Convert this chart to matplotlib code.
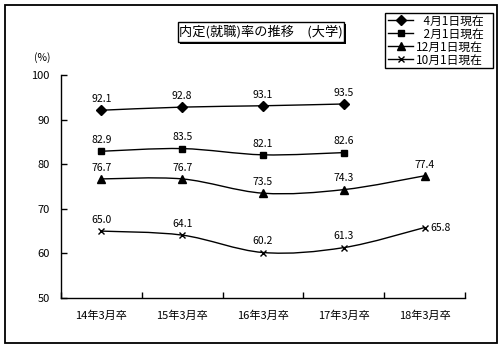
import numpy as np
import matplotlib
matplotlib.use("Agg")
import matplotlib.pyplot as plt
from matplotlib.path import Path
from matplotlib.patches import PathPatch, Rectangle
from matplotlib.lines import Line2D

plt.rcParams['font.family'] = ['Noto Sans CJK JP', 'DejaVu Sans']

categories = ["14年3月卒", "15年3月卒", "16年3月卒", "17年3月卒", "18年3月卒"]
series_names = ["\u20074月1日現在", "\u20072月1日現在", "12月1日現在", "10月1日現在"]
apr1 = [92.1, 92.8, 93.1, 93.5, None]
feb1 = [82.9, 83.5, 82.1, 82.6, None]
dec1 = [76.7, 76.7, 73.5, 74.3, 77.4]
oct1 = [65.0, 64.1, 60.2, 61.3, 65.8]
y_ticks = [50, 60, 70, 80, 90, 100]
title = "内定(就職)率の推移　(大学)"

W, H = 501, 348
fig = plt.figure(figsize=(W / 100, H / 100), dpi=100)

def fx(px):
    return px / W

def fy(py):
    return 1 - py / H

# outer frame
fig.patches.append(Rectangle((fx(5), fy(343)), fx(492), (338) / H, transform=fig.transFigure,
                             fill=False, edgecolor='black', lw=1.3))

ax = fig.add_axes([fx(61), fy(298), fx(465 - 61), (298 - 75) / H])
ax.set_xlim(-0.5, 4.5)
ax.set_ylim(50, 100)
for s in ['top', 'right']:
    ax.spines[s].set_visible(False)
for s in ['left', 'bottom']:
    ax.spines[s].set_linewidth(1.0)

ax.set_yticks(y_ticks)
ax.set_yticklabels([str(v) for v in y_ticks], fontsize=8)
ax.tick_params(axis='y', direction='in', length=4, width=1, pad=8)
ax.set_xticks(range(len(categories)))
ax.set_xticklabels(categories, fontsize=8)
ax.tick_params(axis='x', which='major', length=0, pad=9)
ax.set_xticks(np.arange(-0.5, 5, 1.0), minor=True)
ax.tick_params(axis='x', which='minor', direction='in', length=4, width=1)

fig.text(fx(42), fy(58), "(%)", fontsize=7.5, ha='center', va='center')


def smooth_path(xs, ys):
    pts = [(x, y) for x, y in zip(xs, ys) if y is not None]
    p = np.array(pts, dtype=float)
    verts = [tuple(p[0])]
    codes = [Path.MOVETO]
    n = len(p)
    for i in range(n - 1):
        prev = p[i - 1] if i > 0 else p[i]
        nxt = p[i + 2] if i + 2 < n else p[i + 1]
        c1 = p[i] + (p[i + 1] - prev) / 6
        c2 = p[i + 1] - (nxt - p[i]) / 6
        verts += [tuple(c1), tuple(c2), tuple(p[i + 1])]
        codes += [Path.CURVE4] * 3
    return Path(verts, codes)


styles = [
    dict(marker='D', ms=4.6),
    dict(marker='s', ms=5.0),
    dict(marker='^', ms=5.6),
    dict(marker='x', ms=4.0, mew=1.0),
]
all_series = [apr1, feb1, dec1, oct1]
xs = list(range(len(categories)))
handles = []
for name, vals, st in zip(series_names, all_series, styles):
    ax.add_patch(PathPatch(smooth_path(xs, vals), fill=False, edgecolor='black', lw=1.0))
    px = [x for x, v in zip(xs, vals) if v is not None]
    py = [v for v in vals if v is not None]
    ax.plot(px, py, linestyle='none', color='black', **st)
    for x, v in zip(px, py):
        if vals is oct1 and x == 4:
            ax.annotate(f"{v:.1f}", (x, v), xytext=(4, 0), textcoords='offset points',
                        ha='left', va='center', fontsize=7.5)
        else:
            ax.annotate(f"{v:.1f}", (x, v), xytext=(0, 4.5), textcoords='offset points',
                        ha='center', va='bottom', fontsize=7.5)
    handles.append(Line2D([], [], color='black', lw=1.0, **st))

# legend box drawn separately so its size is fixed
fig.patches.append(Rectangle((fx(385), fy(68)), fx(108), 55 / H, transform=fig.transFigure,
                             facecolor='white', edgecolor='black', lw=1.0, zorder=3))
leg = fig.legend(handles, series_names, loc='center',
                 bbox_to_anchor=(fx(436), fy(40.5)), fontsize=8.5,
                 frameon=False, handlelength=2.1, handletextpad=0.25,
                 labelspacing=0.0, borderpad=0, borderaxespad=0)
leg.set_zorder(4)

# title with drop shadow
fig.patches.append(Rectangle((fx(180), fy(44)), fx(166), 20 / H, transform=fig.transFigure,
                             facecolor='black', edgecolor='black', lw=0))
fig.patches.append(Rectangle((fx(178), fy(42)), fx(166), 20 / H, transform=fig.transFigure,
                             facecolor='white', edgecolor='black', lw=1.0))
fig.text(fx(261), fy(32), title, fontsize=9.5, ha='center', va='center')

fig.savefig("out.png", dpi=100)
